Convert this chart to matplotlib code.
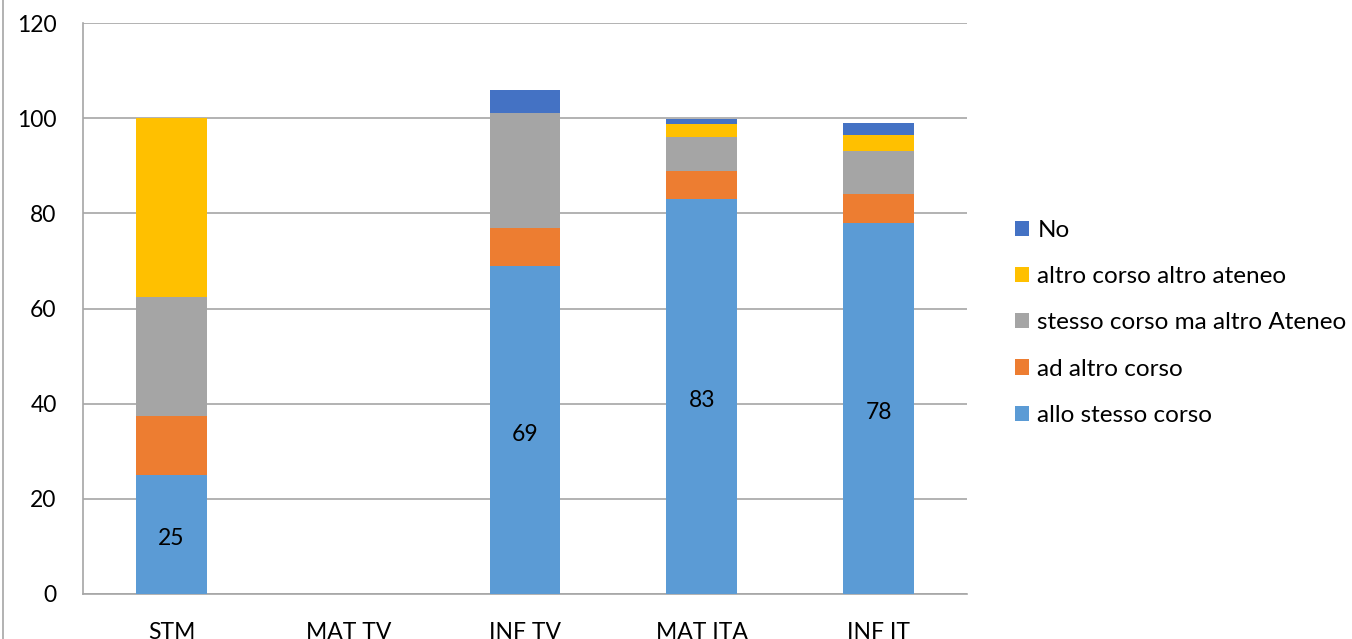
import matplotlib
matplotlib.use("Agg")
import matplotlib.pyplot as plt
from matplotlib.lines import Line2D
import numpy as np

plt.rcParams['font.family'] = ['Lato', 'DejaVu Sans']

categories = ["STM", "MAT TV", "INF TV", "MAT ITA", "INF IT"]
series_names = ["allo stesso corso", "ad altro corso", "stesso corso ma altro Ateneo",
                "altro corso altro ateneo", "No"]
allo_stesso = [25, 0, 69, 83, 78]
ad_altro = [12.5, 0, 8, 6, 6]
stesso_altro_ateneo = [25, 0, 24, 7, 9]
altro_altro_ateneo = [37.5, 0, 0, 2.75, 3.5]
no_values = [0, 0, 5, 1, 2.5]
data_labels = [25, None, 69, 83, 78]
y_ticks = [0, 20, 40, 60, 80, 100, 120]

colors = ["#5B9BD5", "#ED7D31", "#A5A5A5", "#FFC000", "#4472C4"]
series = [allo_stesso, ad_altro, stesso_altro_ateneo, altro_altro_ateneo, no_values]

fig = plt.figure(figsize=(13.52, 6.39), dpi=100)
ax = fig.add_axes([83 / 1352, 1 - 594 / 639, (967 - 83) / 1352, (594 - 23) / 639])

x = np.arange(len(categories))
bottom = np.zeros(len(categories))
handles = []
for vals, col, name in zip(series, colors, series_names):
    vals = np.array(vals, dtype=float)
    h = ax.bar(x, vals, width=0.4, bottom=bottom, color=col, label=name, zorder=3)
    handles.append(h)
    bottom += vals

for xi, lab in zip(x, data_labels):
    if lab is not None:
        ax.annotate(str(lab), (xi, lab / 2), xytext=(0, -3), textcoords="offset points",
                    ha="center", va="center", fontsize=16.5, color="black", zorder=4)

ax.set_xlim(-0.5, len(categories) - 0.5)
ax.set_ylim(0, 120)
ax.set_yticks(y_ticks)
ax.set_xticks(x)
ax.set_xticklabels(categories)
ax.tick_params(axis="both", length=0, labelsize=16.5, colors="black")
ax.tick_params(axis="y", pad=19)
ax.tick_params(axis="x", pad=20)
ax.yaxis.grid(True, color="#A6A6A6", linewidth=1.2, zorder=0)
ax.set_axisbelow(True)
for side in ["top", "right"]:
    ax.spines[side].set_visible(False)
for side in ["left", "bottom"]:
    ax.spines[side].set_color("#A6A6A6")
    ax.spines[side].set_linewidth(1.2)

leg = fig.legend(handles[::-1], series_names[::-1], loc="upper left",
                 bbox_to_anchor=(1005 / 1352, 1 - 210 / 639), frameon=False,
                 fontsize=17.5, handlelength=0.58, handleheight=0.58,
                 handletextpad=0.35, labelspacing=1.04, borderaxespad=0)

fig.add_artist(Line2D([3 / 1352, 3 / 1352], [0, 1], transform=fig.transFigure,
                      color="#A6A6A6", linewidth=1.2))

fig.savefig("out.png", dpi=100)
